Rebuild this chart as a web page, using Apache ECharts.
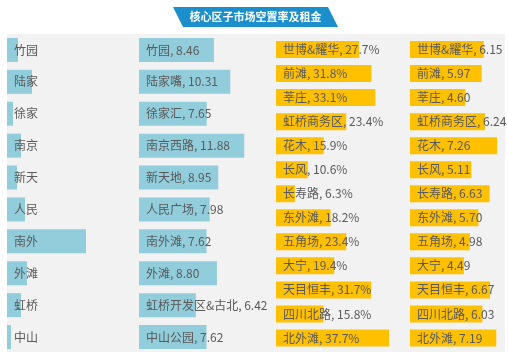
<!DOCTYPE html>
<html>
<head>
<meta charset="utf-8">
<script src="https://cdn.jsdelivr.net/npm/echarts@6/dist/echarts.min.js"></script>
<style>html,body{margin:0;padding:0;background:#fff}#c{width:508px;height:360px}</style>
</head>
<body>
<div id="c"></div>
<script>
var titleText = '核心区子市场空置率及租金';
var col1Names = ['竹园','陆家','徐家','南京','新天','人民','南外','外滩','虹桥','中山'];
var col1Values = [11,25,6,14,10,18,79,20,14,4];
var col2Names = ['竹园','陆家嘴','徐家汇','南京西路','新天地','人民广场','南外滩','外滩','虹桥开发区&古北','中山公园'];
var col2Values = [8.46,10.31,7.65,11.88,8.95,7.98,7.62,8.80,6.42,7.62];
var col3Names = ['世博&耀华','前滩','莘庄','虹桥商务区','花木','长风','长寿路','东外滩','五角场','大宁','天目恒丰','四川北路','北外滩'];
var col3Values = [27.7,31.8,33.1,23.4,15.9,10.6,6.3,18.2,23.4,19.4,31.7,15.8,37.7];
var col4Names = col3Names;
var col4Values = [6.15,5.97,4.60,6.24,7.26,5.11,6.63,5.70,4.98,4.49,6.67,6.03,7.19];

var FONT = '"Noto Sans CJK SC", "Noto Sans", sans-serif';
var BLUE = '#92cddc', GOLD = '#ffc000', TXT = '#595959';

var grids = [
  {left: 7,   top: 34,   width: 128, height: 319},
  {left: 139, top: 34,   width: 124, height: 319},
  {left: 276, top: 37.5, width: 120, height: 312.5},
  {left: 410, top: 37.5, width: 96,  height: 312.5}
];
var maxes = [128, 14, 40, 8];
var names = [col1Names, col2Names, col3Names, col4Names];
var vals = [col1Values, col2Values, col3Values, col4Values];
var colors = [BLUE, BLUE, GOLD, GOLD];
var barW = [24, 24, 17, 17];
var fmts = [
  function(p){ return p.name; },
  function(p){ return p.name + ', ' + p.value.toFixed(2); },
  function(p){ return p.name + ', ' + p.value.toFixed(1) + '%'; },
  function(p){ return p.name + ', ' + p.value.toFixed(2); }
];

var xAxes = [], yAxes = [], series = [];
for (var i = 0; i < 4; i++) {
  xAxes.push({type: 'value', gridIndex: i, min: 0, max: maxes[i], show: false});
  yAxes.push({type: 'category', gridIndex: i, data: names[i], inverse: true, show: false});
  series.push({
    type: 'bar', xAxisIndex: i, yAxisIndex: i, data: vals[i], barWidth: barW[i],
    itemStyle: {color: colors[i]}, z: 2,
    label: {show: true, position: 'insideLeft', distance: 7, formatter: fmts[i],
      color: TXT, fontSize: 12, fontFamily: FONT}
  });
}

var chart = echarts.init(document.getElementById('c'), null, {renderer: 'canvas'});
chart.setOption({
  animation: false,
  backgroundColor: '#ffffff',
  grid: grids,
  xAxis: xAxes,
  yAxis: yAxes,
  series: series,
  graphic: [
    {type: 'rect', z: -1, shape: {x: 7, y: 34, width: 498, height: 318}, style: {fill: '#f2f2f2'}},
    {type: 'polygon', z: 10, shape: {points: [[173,7],[328,7],[338,27],[183,27]]}, style: {fill: '#1a8fcc'}},
    {type: 'text', z: 11, x: 255.5, y: 17, style: {text: titleText, fill: '#ffffff', font: 'bold 11px ' + FONT, textAlign: 'center', textVerticalAlign: 'middle'}}
  ]
});
</script>
</body>
</html>
